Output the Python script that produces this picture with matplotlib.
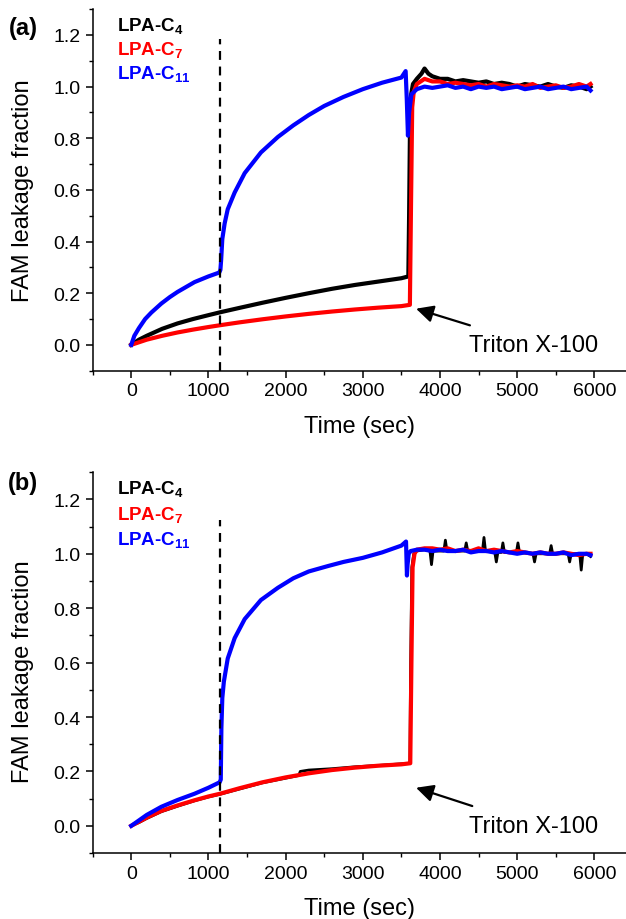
import matplotlib
matplotlib.use("Agg")
import matplotlib.pyplot as plt
from matplotlib.ticker import MultipleLocator

plt.rcParams['font.family'] = 'Liberation Sans'
plt.rcParams['mathtext.fontset'] = 'custom'
plt.rcParams['mathtext.rm'] = 'Liberation Sans'
plt.rcParams['mathtext.bf'] = 'Liberation Sans:bold'

# time points of additions (sec)
addition_time = 1150
series_names = ['LPA-C$_{\\mathbf{4}}$', 'LPA-C$_{\\mathbf{7}}$', 'LPA-C$_{\\mathbf{11}}$']
series_colors = ['black', 'red', 'blue']

# common plateau after Triton X-100
t_plateau = [3700, 3800, 3900, 4000, 4100, 4200, 4300, 4400, 4500, 4600, 4700, 4800, 4900,
             5000, 5100, 5200, 5300, 5400, 5500, 5600, 5700, 5800, 5900, 5950]

# ---- panel (a) ----
t_a_c4 = [0, 100, 200, 400, 600, 800, 1000, 1150, 1400, 1700, 2000, 2300, 2600, 2900, 3200,
          3500, 3590, 3600, 3615, 3650, 3700, 3760, 3800, 3850] + t_plateau[2:]
v_a_c4 = [0, 0.02, 0.035, 0.062, 0.083, 0.1, 0.115, 0.126, 0.143, 0.163, 0.182, 0.2, 0.217,
          0.232, 0.245, 0.258, 0.265, 0.5, 0.95, 1.01, 1.03, 1.05, 1.07, 1.05,
          1.04, 1.03, 1.03, 1.02, 1.025, 1.02, 1.015, 1.02, 1.01, 1.015, 1.01, 1.0, 1.01,
          1.005, 1.0, 1.01, 1.0, 0.995, 1.005, 1.0, 0.99, 1.0]

t_a_c7 = [0, 100, 200, 400, 600, 800, 1000, 1150, 1400, 1700, 2000, 2300, 2600, 2900, 3200,
          3500, 3610, 3625, 3640, 3660] + t_plateau
v_a_c7 = [0, 0.01, 0.02, 0.035, 0.048, 0.059, 0.069, 0.076, 0.087, 0.099, 0.11, 0.12, 0.129,
          0.137, 0.144, 0.15, 0.155, 0.55, 0.92, 0.98,
          1.01, 1.03, 1.02, 1.02, 1.01, 1.015, 1.01, 1.005, 1.01, 1.0, 1.01, 1.005, 1.0,
          1.005, 1.0, 1.01, 0.995, 1.0, 1.005, 0.995, 1.0, 1.01, 1.0, 1.01]

t_a_c11 = [0, 40, 100, 180, 260, 390, 500, 600, 820, 1000, 1140, 1155, 1165, 1180, 1210, 1250,
           1340, 1470, 1680, 1900, 2100, 2300, 2500, 2750, 3000, 3250, 3500, 3555, 3570, 3585,
           3600, 3630] + t_plateau
v_a_c11 = [0, 0.035, 0.065, 0.1, 0.125, 0.16, 0.185, 0.205, 0.243, 0.265, 0.28, 0.29, 0.33,
           0.41, 0.47, 0.525, 0.59, 0.665, 0.745, 0.805, 0.85, 0.89, 0.925, 0.96, 0.99, 1.015,
           1.035, 1.06, 0.95, 0.81, 0.9, 0.97,
           0.99, 1.0, 0.995, 1.0, 1.005, 0.995, 1.0, 0.99, 1.0, 0.995, 1.0, 0.99, 0.995,
           1.0, 0.99, 0.995, 1.0, 0.99, 0.995, 1.0, 0.99, 0.995, 1.0, 0.985]

# ---- panel (b) ----
t_b_c4 = [0, 100, 200, 390, 600, 820, 1000, 1150, 1400, 1700, 2000, 2170, 2190, 2300, 2600,
          2900, 3200, 3500, 3610, 3620, 3635, 3660, 3700, 3800,
          3870, 3890, 3910, 4050, 4070, 4090, 4320, 4340, 4360, 4550, 4570, 4590,
          4710, 4730, 4750, 4795, 4815, 4835, 4990, 5010, 5030, 5205, 5225, 5245,
          5420, 5440, 5460, 5660, 5680, 5700, 5810, 5830, 5850, 5900, 5950]
v_b_c4 = [0, 0.012, 0.027, 0.052, 0.072, 0.092, 0.106, 0.116, 0.135, 0.158, 0.175, 0.185,
          0.2, 0.205, 0.21, 0.217, 0.222, 0.228, 0.23, 0.6, 0.95, 1.0, 1.01, 1.015,
          1.01, 0.96, 1.01, 1.01, 1.05, 1.01, 1.01, 1.04, 1.01, 1.01, 1.06, 1.01,
          1.005, 0.97, 1.005, 1.005, 1.04, 1.005, 1.005, 1.04, 1.005, 1.0, 0.97, 1.0,
          1.0, 1.03, 1.0, 1.0, 0.97, 1.0, 1.0, 0.94, 1.0, 1.0, 0.99]

t_b_c7 = [0, 100, 200, 390, 600, 820, 1000, 1150, 1400, 1700, 2000, 2300, 2600, 2900, 3200,
          3500, 3615, 3630, 3645, 3670] + t_plateau
v_b_c7 = [0, 0.015, 0.03, 0.055, 0.075, 0.094, 0.108, 0.118, 0.138, 0.16, 0.178, 0.193,
          0.205, 0.214, 0.221, 0.226, 0.23, 0.6, 0.95, 1.0,
          1.015, 1.02, 1.02, 1.015, 1.02, 1.01, 1.015, 1.01, 1.02, 1.01, 1.015, 1.01, 1.005,
          1.01, 1.005, 1.0, 1.005, 1.0, 1.0, 1.005, 1.0, 0.995, 1.0, 1.0]

t_b_c11 = [0, 100, 200, 390, 600, 820, 1000, 1145, 1160, 1168, 1180, 1200, 1250, 1340, 1470,
           1680, 1900, 2100, 2300, 2550, 2750, 3000, 3250, 3500, 3560, 3572, 3580, 3595,
           3620] + t_plateau
v_b_c11 = [0, 0.02, 0.04, 0.07, 0.095, 0.118, 0.14, 0.16, 0.17, 0.36, 0.47, 0.53, 0.615,
           0.69, 0.76, 0.83, 0.875, 0.91, 0.935, 0.955, 0.97, 0.985, 1.005, 1.03, 1.045,
           0.92, 0.96, 1.0, 1.01,
           1.015, 1.015, 1.01, 1.015, 1.01, 1.01, 1.015, 1.005, 1.01, 1.01, 1.005, 1.01,
           1.005, 1.0, 1.005, 1.0, 1.005, 1.0, 1.0, 1.005, 0.995, 1.0, 1.0, 0.995]

panels = [
    ([(t_a_c4, v_a_c4), (t_a_c7, v_a_c7), (t_a_c11, v_a_c11)], 1.185),
    ([(t_b_c4, v_b_c4), (t_b_c7, v_b_c7), (t_b_c11, v_b_c11)], 1.125),
]

fig = plt.figure(figsize=(6.26, 9.2), dpi=100)
ax_a = fig.add_axes([0.148, 0.596, 0.852, 0.393])
ax_b = fig.add_axes([0.148, 0.0717, 0.852, 0.414])

for ax, (data, dash_top), label_y in zip([ax_a, ax_b], panels, [0.793, 0.270]):
    for (t, v), c in zip(data, series_colors):
        lw = 2.0 if (ax is ax_b and c == 'black') else 3.0
        ax.plot(t, v, color=c, lw=lw, solid_joinstyle='round')
    ax.plot([addition_time, addition_time], [-0.1, dash_top], color='black', lw=1.6,
            ls=(0, (4, 3)))

    ax.set_xlim(-500, 6410)
    ax.set_ylim(-0.1, 1.3)
    ax.xaxis.set_major_locator(MultipleLocator(1000))
    ax.xaxis.set_minor_locator(MultipleLocator(500))
    ax.yaxis.set_major_locator(MultipleLocator(0.2))
    ax.yaxis.set_minor_locator(MultipleLocator(0.1))
    ax.yaxis.set_major_formatter(matplotlib.ticker.FormatStrFormatter('%.1f'))
    for s in ['top', 'right']:
        ax.spines[s].set_visible(False)
    for s in ['left', 'bottom']:
        ax.spines[s].set_linewidth(1.1)
    ax.tick_params(which='major', direction='out', length=5, width=1.1, labelsize=14)
    ax.tick_params(which='minor', direction='out', length=3, width=1.0)
    ax.set_xlabel('Time (sec)', fontsize=17, labelpad=11)

    fig.text(0.036, label_y, 'FAM leakage fraction', rotation=90, fontsize=17,
             ha='center', va='center')

    for i, (name, c) in enumerate(zip(series_names, series_colors)):
        ax.text(0.045, 0.955 - i * 0.067, name, transform=ax.transAxes, color=c,
                fontsize=13.5, fontweight='bold', va='center', ha='left')

    ax.annotate('Triton X-100', xy=(3690, 0.14), xytext=(4370, 0.0),
                fontsize=17, va='center', ha='left',
                arrowprops=dict(arrowstyle='-|>', color='black', lw=1.6,
                                mutation_scale=26, shrinkA=14, shrinkB=0))

fig.text(0.014, 0.969, '(a)', fontsize=17, fontweight='bold', ha='left', va='center')
fig.text(0.012, 0.474, '(b)', fontsize=17, fontweight='bold', ha='left', va='center')

fig.savefig('out.png', dpi=100)
